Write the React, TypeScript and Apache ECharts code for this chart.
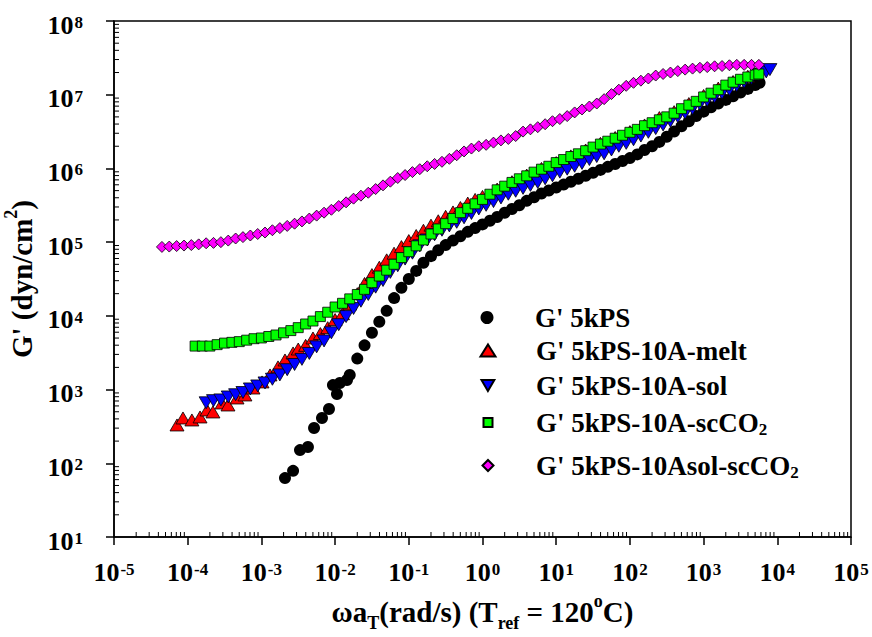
import React, { useEffect, useRef } from "react";
import * as echarts from "echarts";

const FONT = '"Liberation Serif", "Times New Roman", Times, serif';

const seriesNames = [
  "G' 5kPS",
  "G' 5kPS-10A-melt",
  "G' 5kPS-10A-sol",
  "G' 5kPS-10A-scCO2",
  "G' 5kPS-10Asol-scCO2",
];
const legendLabels = [
  "{m|G' 5kPS}",
  "{m|G' 5kPS-10A-melt}",
  "{m|G' 5kPS-10A-sol}",
  "{m|G' 5kPS-10A-scCO}{sub|2}",
  "{m|G' 5kPS-10Asol-scCO}{sub|2}",
];

const xTitle = "{m|ωa}{sub|T}{m|(rad/s) (T}{sub|ref}{m| = 120}{sup|o}{m|C)}";
const yTitle = "{m|G' (dyn/cm}{sup|2}{m|)}";

// G' 5kPS
const ps5kX = [
  2.09e-3, 2.69e-3, 3.34e-3, 4.28e-3, 5.18e-3, 6.64e-3, 8.26e-3, 1.06e-2, 9.35e-3, 1.16e-2, 1.45e-2,
  0.0158, 0.02, 0.0251, 0.0316, 0.0398, 0.0501, 0.0631, 0.0794, 0.1, 0.126, 0.158, 0.2, 0.251, 0.316,
  0.398, 0.501, 0.631, 0.794, 1, 1.26, 1.58, 2, 2.51, 3.16, 3.98, 5.01, 6.31, 7.94, 10, 12.6, 15.8, 20,
  25.1, 31.6, 39.8, 50.1, 63.1, 79.4, 100, 126, 158, 200, 251, 316, 398, 501, 631, 794, 1000, 1260,
  1580, 2000, 2510, 3160, 3980, 5010, 5750,
];
const ps5kY = [
  63, 79, 151, 166, 301, 412, 546, 872, 1150, 1230, 1350,
  1580, 2630, 3980, 5890, 8320, 1.17e4, 1.74e4, 2.4e4, 3.16e4, 4.07e4, 5.25e4, 6.46e4, 7.76e4, 9.12e4,
  1.05e5, 1.2e5, 1.38e5, 1.55e5, 1.74e5, 1.95e5, 2.19e5, 2.51e5, 2.82e5, 3.16e5, 3.63e5, 4.07e5, 4.57e5,
  5.01e5, 5.5e5, 6.03e5, 6.61e5, 7.24e5, 7.94e5, 8.71e5, 9.55e5, 1.05e6, 1.15e6, 1.26e6, 1.38e6, 1.55e6,
  1.78e6, 2.0e6, 2.29e6, 2.69e6, 3.16e6, 3.72e6, 4.37e6, 5.13e6, 5.89e6, 6.76e6, 7.59e6, 8.51e6, 9.55e6,
  1.07e7, 1.2e7, 1.35e7, 1.45e7,
];

// G' 5kPS-10A-melt
const meltX = [
  7.16e-5, 8.63e-5, 1.14e-4, 1.47e-4, 1.83e-4, 2.2e-4, 2.92e-4, 3.52e-4, 4.67e-4, 5.98e-4, 7.69e-4,
  1.02e-3, 1.31e-3, 1.68e-3, 2.09e-3, 2.69e-3,
  3.16e-3, 3.98e-3, 5.01e-3, 6.31e-3, 7.94e-3, 0.01, 0.0126, 0.0158, 0.02, 0.0251, 0.0316, 0.0398,
  0.0501, 0.0631, 0.0794, 0.1, 0.126, 0.158, 0.2, 0.251, 0.316, 0.398, 0.501, 0.631, 0.794, 1,
  1.58, 2.51, 3.98, 6.31, 10, 15.8, 25.1, 39.8, 63.1, 100, 158, 251, 398, 631, 1000, 1580, 2510, 3980, 5010,
];
const meltY = [
  331, 412, 387, 425, 529, 497, 658, 618, 769, 845, 1050, 1270, 1580, 2030, 2520, 3140,
  3550, 3980, 5010, 5750, 6920, 8910, 1.07e4, 1.45e4, 2.0e4, 2.75e4, 3.63e4, 4.57e4, 5.75e4, 7.08e4,
  8.71e4, 1.05e5, 1.23e5, 1.45e5, 1.7e5, 1.95e5, 2.24e5, 2.57e5, 2.95e5, 3.39e5, 3.8e5, 4.17e5,
  5.25e5, 6.61e5, 8.13e5, 1.0e6, 1.2e6, 1.48e6, 1.78e6, 2.19e6, 2.63e6, 3.16e6, 3.89e6, 4.9e6, 5.89e6,
  7.59e6, 9.77e6, 1.23e7, 1.51e7, 1.78e7, 1.91e7,
];

// G' 5kPS-10A-sol
const solX = [
  1.78e-4, 2.24e-4, 2.82e-4, 3.55e-4, 4.47e-4, 5.62e-4, 7.08e-4, 8.91e-4,
  1.12e-3, 1.41e-3, 1.78e-3, 2.24e-3, 2.82e-3, 3.55e-3, 4.47e-3, 5.62e-3, 7.08e-3, 8.91e-3,
  0.0112, 0.0141, 0.0178, 0.0224, 0.0282, 0.0355, 0.0447, 0.0562, 0.0708, 0.0891,
  0.112, 0.141, 0.178, 0.224, 0.282, 0.355, 0.447, 0.562, 0.708, 0.891,
  1.12, 1.41, 1.78, 2.24, 2.82, 3.55, 4.47, 5.62, 7.08, 8.91,
  11.2, 14.1, 17.8, 22.4, 28.2, 35.5, 44.7, 56.2, 70.8, 89.1,
  112, 141, 178, 224, 282, 355, 447, 562, 708, 891,
  1120, 1410, 1780, 2240, 2820, 3550, 4470, 5620, 7080, 7940,
];
const solY = [
  661, 708, 724, 794, 851, 912, 1020, 1120, 1230, 1380,
  1580, 1860, 2190, 2570, 3090, 3800, 4570, 5890, 7590, 9770,
  1.26e4, 1.58e4, 1.95e4, 2.45e4, 3.02e4, 3.89e4, 4.79e4, 5.89e4, 7.08e4, 8.91e4,
  1.07e5, 1.26e5, 1.45e5, 1.66e5, 1.86e5, 2.14e5, 2.45e5, 2.82e5, 3.16e5, 3.55e5,
  3.98e5, 4.47e5, 4.9e5, 5.37e5, 5.89e5, 6.46e5, 7.24e5, 7.94e5, 8.91e5, 9.77e5,
  1.07e6, 1.17e6, 1.32e6, 1.45e6, 1.58e6, 1.78e6, 2.0e6, 2.19e6, 2.45e6, 2.75e6,
  3.09e6, 3.47e6, 3.89e6, 4.37e6, 5.01e6, 5.62e6, 6.46e6, 7.41e6, 8.32e6, 9.33e6,
  1.05e7, 1.17e7, 1.32e7, 1.48e7, 1.66e7, 1.86e7, 2.04e7, 2.19e7,
];

// G' 5kPS-10A-scCO2
const scX = [
  1.26e-4, 1.58e-4, 2.0e-4, 2.51e-4, 3.16e-4, 3.98e-4, 5.01e-4, 6.31e-4, 7.94e-4,
  1.0e-3, 1.26e-3, 1.58e-3, 2.0e-3, 2.51e-3, 3.16e-3, 3.98e-3, 5.01e-3, 6.31e-3, 7.94e-3,
  0.01, 0.0126, 0.0158, 0.02, 0.0251, 0.0316, 0.0398, 0.0501, 0.0631, 0.0794,
  0.1, 0.126, 0.158, 0.2, 0.251, 0.316, 0.398, 0.501, 0.631, 0.794,
  1, 1.26, 1.58, 2, 2.51, 3.16, 3.98, 5.01, 6.31, 7.94,
  10, 12.6, 15.8, 20, 25.1, 31.6, 39.8, 50.1, 63.1, 79.4,
  100, 126, 158, 200, 251, 316, 398, 501, 631, 794,
  1000, 1260, 1580, 2000, 2510, 3160, 3980, 5010, 5620,
];
const scY = [
  3890, 3890, 3890, 4070, 4270, 4370, 4470, 4680, 4900,
  5010, 5250, 5500, 5890, 6310, 6920, 7760, 8510, 9770, 1.12e4,
  1.32e4, 1.48e4, 1.7e4, 1.95e4, 2.29e4, 2.82e4, 3.47e4, 4.17e4, 5.01e4, 6.17e4,
  7.41e4, 8.91e4, 1.07e5, 1.29e5, 1.51e5, 1.78e5, 2.09e5, 2.51e5, 2.88e5, 3.31e5,
  3.8e5, 4.47e5, 5.13e5, 5.75e5, 6.46e5, 7.24e5, 7.94e5, 8.91e5, 9.77e5, 1.07e6,
  1.2e6, 1.32e6, 1.45e6, 1.58e6, 1.74e6, 1.95e6, 2.14e6, 2.34e6, 2.57e6, 2.82e6,
  3.09e6, 3.39e6, 3.8e6, 4.17e6, 4.57e6, 5.01e6, 5.62e6, 6.46e6, 7.24e6, 8.13e6,
  9.33e6, 1.05e7, 1.17e7, 1.35e7, 1.48e7, 1.62e7, 1.74e7, 1.86e7, 1.91e7,
];

// G' 5kPS-10Asol-scCO2
const solScX = [
  4.47e-5, 5.62e-5, 7.08e-5, 8.91e-5,
  1.12e-4, 1.41e-4, 1.78e-4, 2.24e-4, 2.82e-4, 3.55e-4, 4.47e-4, 5.62e-4, 7.08e-4, 8.91e-4,
  1.12e-3, 1.41e-3, 1.78e-3, 2.24e-3, 2.82e-3, 3.55e-3, 4.47e-3, 5.62e-3, 7.08e-3, 8.91e-3,
  0.0112, 0.0141, 0.0178, 0.0224, 0.0282, 0.0355, 0.0447, 0.0562, 0.0708, 0.0891,
  0.112, 0.141, 0.178, 0.224, 0.282, 0.355, 0.447, 0.562, 0.708, 0.891,
  1.12, 1.41, 1.78, 2.24, 2.82, 3.55, 4.47, 5.62, 7.08, 8.91,
  11.2, 14.1, 17.8, 22.4, 28.2, 35.5, 44.7, 56.2, 70.8, 89.1,
  112, 141, 178, 224, 282, 355, 447, 562, 708, 891,
  1120, 1410, 1780, 2240, 2820, 3550, 4470, 5620,
];
const solScY = [
  8.61e4, 8.71e4, 8.85e4, 8.99e4,
  9.12e4, 9.33e4, 9.66e4, 9.77e4, 1.0e5, 1.05e5, 1.12e5, 1.17e5, 1.23e5, 1.29e5,
  1.35e5, 1.45e5, 1.55e5, 1.66e5, 1.78e5, 1.91e5, 2.09e5, 2.29e5, 2.51e5, 2.75e5,
  3.09e5, 3.47e5, 3.89e5, 4.27e5, 4.68e5, 5.25e5, 5.89e5, 6.61e5, 7.41e5, 8.13e5,
  8.91e5, 9.77e5, 1.07e6, 1.15e6, 1.23e6, 1.35e6, 1.51e6, 1.7e6, 1.86e6, 2.0e6,
  2.09e6, 2.24e6, 2.4e6, 2.51e6, 2.75e6, 3.16e6, 3.39e6, 3.63e6, 3.98e6, 4.37e6,
  4.68e6, 5.13e6, 5.75e6, 6.31e6, 6.92e6, 7.59e6, 8.71e6, 1.02e7, 1.17e7, 1.32e7,
  1.45e7, 1.55e7, 1.66e7, 1.82e7, 1.91e7, 2.0e7, 2.09e7, 2.19e7, 2.26e7, 2.32e7,
  2.37e7, 2.43e7, 2.45e7, 2.51e7, 2.54e7, 2.54e7, 2.54e7, 2.54e7,
];

const xMin = 1e-5;
const xMax = 1e5;
const yMin = 1e1;
const yMax = 1e8;

// minor tick positions: 2..9 times each decade
const minorSteps = [2, 3, 4, 5, 6, 7, 8, 9];
const xDecades = [1e-5, 1e-4, 1e-3, 1e-2, 1e-1, 1, 10, 100, 1000, 10000];
const yDecades = [10, 100, 1000, 1e4, 1e5, 1e6, 1e7];
const xMinorTicks: number[] = [];
xDecades.forEach((d) => minorSteps.forEach((m) => xMinorTicks.push(d * m)));
const yMinorTicks: number[] = [];
yDecades.forEach((d) => minorSteps.forEach((m) => yMinorTicks.push(d * m)));

const zip = (xs: number[], ys: number[]) => xs.map((x, i) => [x, ys[i]]);

const bold = { fontFamily: FONT, fontWeight: "bold" as const, color: "#000" };

const tickRich = {
  b: { ...bold, fontSize: 26, lineHeight: 30, padding: [8, 0, 0, 0] },
  s: { ...bold, fontSize: 17, lineHeight: 14, verticalAlign: "top", padding: [8, 0, 0, 1] },
};

const titleRich = {
  m: { ...bold, fontSize: 29, lineHeight: 40 },
  sup: { ...bold, fontSize: 18, lineHeight: 14, verticalAlign: "top" },
  sub: { ...bold, fontSize: 18, lineHeight: 16, verticalAlign: "bottom" },
};

const tickFormatter = (v: number) => {
  const e = Math.round(Math.log10(v));
  return "{b|10}{s|" + e + "}";
};

const downTriangle = "path://M0,0L14,0L7,12Z";

const series = [
  { name: seriesNames[0], xs: ps5kX, ys: ps5kY, symbol: "circle", size: 12, color: "#000000", rotate: 0, lw: 13, lh: 13, icon: "circle" },
  { name: seriesNames[1], xs: meltX, ys: meltY, symbol: "triangle", size: [14, 12], color: "#ff0000", rotate: 0, lw: 15, lh: 12, icon: "triangle" },
  { name: seriesNames[2], xs: solX, ys: solY, symbol: "triangle", size: [14, 12], color: "#0000ff", rotate: 180, lw: 13, lh: 11, icon: downTriangle },
  { name: seriesNames[3], xs: scX, ys: scY, symbol: "rect", size: 10, color: "#00ff00", rotate: 0, lw: 9, lh: 9, icon: "rect" },
  { name: seriesNames[4], xs: solScX, ys: solScY, symbol: "diamond", size: 11, color: "#ff00ff", rotate: 0, lw: 11, lh: 11, icon: "diamond" },
];

const legendTops = [304, 337, 372, 409, 452];

export default function App() {
  const ref = useRef<HTMLDivElement>(null);
  useEffect(() => {
    if (!ref.current) return;
    const chart = echarts.init(ref.current, null, { renderer: "svg" });
    const axisLine = { show: true, onZero: false, lineStyle: { color: "#000", width: 1.5 } };
    const tickLabel = (margin: number) => ({
      show: true,
      margin,
      formatter: tickFormatter,
      fontFamily: FONT,
      fontWeight: "bold",
      fontSize: 26,
      color: "#000",
      rich: tickRich,
      showMinLabel: true,
      showMaxLabel: true,
      hideOverlap: false,
    });
    const option: any = {
      animation: false,
      backgroundColor: "#fff",
      grid: {
        left: 114,
        right: 21,
        top: 21,
        bottom: 100,
        show: true,
        borderColor: "#000",
        borderWidth: 1.5,
        backgroundColor: "transparent",
        containLabel: false,
        outerBoundsMode: "none",
      },
      legend: series.map((s, i) => ({
        data: [{ name: s.name, icon: s.icon }],
        orient: "vertical",
        left: 487 - s.lw / 2,
        top: legendTops[i],
        padding: 0,
        itemWidth: s.lw,
        itemHeight: s.lh,
        selectedMode: false,
        formatter: () => "{gap| }" + legendLabels[i],
        textStyle: {
          ...bold,
          fontSize: 27,
          rich: {
            gap: { width: 43 - s.lw / 2, fontSize: 10 },
            m: { ...bold, fontSize: 27, lineHeight: 30 },
            sub: { ...bold, fontSize: 17, lineHeight: 14, verticalAlign: "bottom" },
          },
        },
      })),
      xAxis: {
        type: "log",
        logBase: 10,
        min: xMin,
        max: xMax,
        interval: 1,
        position: "bottom",
        axisLine,
        axisTick: { show: true, inside: false, length: 8, lineStyle: { color: "#000", width: 1.5 } },
        minorTick: { show: false },
        splitLine: { show: false },
        axisLabel: tickLabel(16),
        name: xTitle,
        nameLocation: "middle",
        nameGap: 55,
        nameTextStyle: { ...bold, fontSize: 29, rich: titleRich },
      },
      yAxis: {
        type: "log",
        logBase: 10,
        min: yMin,
        max: yMax,
        interval: 1,
        position: "left",
        axisLine,
        axisTick: { show: true, inside: false, length: 8, lineStyle: { color: "#000", width: 1.5 } },
        minorTick: { show: false },
        splitLine: { show: false },
        axisLabel: tickLabel(31),
        name: yTitle,
        nameLocation: "middle",
        nameRotate: 90,
        nameGap: 65,
        nameTextStyle: { ...bold, fontSize: 29, rich: titleRich },
      },
      series: [
        {
          type: "custom",
          name: "xMinor",
          coordinateSystem: "cartesian2d",
          clip: false,
          silent: true,
          z: 1,
          data: xMinorTicks.map((v) => [v, yMin]),
          renderItem: (_p: any, api: any) => {
            const pt = api.coord([api.value(0), yMin]);
            return {
              type: "line",
              shape: { x1: pt[0], y1: pt[1], x2: pt[0], y2: pt[1] - 5 },
              style: { stroke: "#000", lineWidth: 1 },
            };
          },
        },
        {
          type: "custom",
          name: "yMinor",
          coordinateSystem: "cartesian2d",
          clip: false,
          silent: true,
          z: 1,
          data: yMinorTicks.map((v) => [xMin, v]),
          renderItem: (_p: any, api: any) => {
            const pt = api.coord([xMin, api.value(1)]);
            return {
              type: "line",
              shape: { x1: pt[0], y1: pt[1], x2: pt[0] + 5, y2: pt[1] },
              style: { stroke: "#000", lineWidth: 1 },
            };
          },
        },
        ...series.map((s) => ({
          type: "scatter",
          name: s.name,
          data: zip(s.xs, s.ys),
          symbol: s.symbol,
          symbolSize: s.size,
          symbolRotate: s.rotate,
          z: 2,
          itemStyle: {
            color: s.color,
            borderColor: "#000",
            borderWidth: s.symbol === "circle" ? 0 : 0.8,
            opacity: 1,
          },
          emphasis: { disabled: true },
        })),
      ],
    };
    chart.setOption(option);
    return () => chart.dispose();
  }, []);
  return (
    <div
      ref={ref}
      style={{ position: "fixed", left: 0, top: 0, width: 872, height: 637, background: "#fff" }}
    />
  );
}
